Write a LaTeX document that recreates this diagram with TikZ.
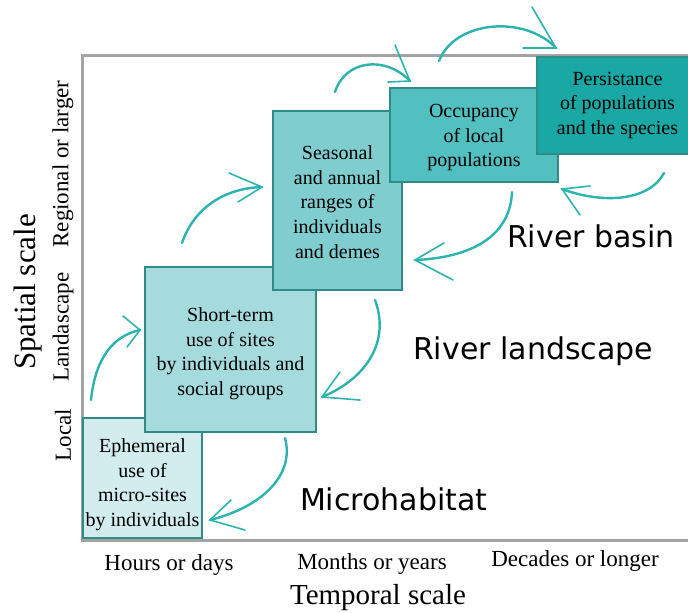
\documentclass[tikz,border=0pt]{standalone}
\usepackage{fontspec}
\setmainfont{Liberation Serif}
\newfontfamily\regionfont{DejaVu Sans}
\definecolor{framegray}{HTML}{A3A3A3}
\definecolor{edgeteal}{HTML}{2F8A88}
\definecolor{arrowteal}{HTML}{2DB3AE}
\definecolor{fillA}{HTML}{D3EDEF}
\definecolor{fillB}{HTML}{A6DBDE}
\definecolor{fillC}{HTML}{80CDD0}
\definecolor{fillD}{HTML}{52BFC1}
\definecolor{fillE}{HTML}{1AA8A4}
\begin{document}
\begin{tikzpicture}
[   x=0.5pt, y=-0.5pt,
    scalebox/.style={draw=edgeteal,line width=1pt,fill=#1,inner sep=0pt},
    boxtext/.style={align=center,font=\fontsize{10}{12.3}\selectfont},
    region/.style={anchor=base west,font=\regionfont\fontsize{15}{18}\selectfont},
    ticklabel/.style={font=\fontsize{11.5}{14}\selectfont},
    shift arrow/.style={draw=arrowteal,line width=1.2pt,line cap=round},
    barb/.style={draw=arrowteal,line width=0.8pt,line cap=round,line join=miter},
]
    \useasboundingbox (0,0) rectangle (688,612);
    \clip (0,0) rectangle (688,612);
    % axes
    \coordinate (origin) at (82,540);
    \coordinate (top-end) at (700,55);
    \coordinate (right-end) at (700,540);
    \draw[framegray,line width=1.5pt] (top-end) -- (top-end -| origin) -- (origin) -- (right-end);
    % boxes, later ones on top
    \foreach \n/\c/\cx/\cy/\w/\h/\ty/\txt in
    {   ephemeral/fillA/142.5/478/59.5/60/484.7/{Ephemeral\\use of\\micro-sites\\by individuals},
        shortterm/fillB/230.5/349.5/85.5/82.5/353.7/{Short-term\\use of sites\\by individuals and\\social groups},
        seasonal/fillC/337.5/200.5/64.5/89.5/202/{Seasonal\\and annual\\ranges of\\individuals\\and demes},
        occupancy/fillD/474/135/84/47/137.7/{Occupancy\\of local\\populations},
        persistance/fillE/617.5/105.5/80.5/48.5/105.2/{Persistance\\of populations\\and the species}%
    }
    {   \node[scalebox=\c,minimum width=\w pt,minimum height=\h pt] (\n) at (\cx,\cy) {};
        \node[boxtext] (\n-text) at (\cx,\ty) {\txt};
    }
    % region names
    \node[region] (basin) at (500,247) {River basin};
    \node[region] (landscape) at (406,359) {River landscape};
    \node[region] (microhabitat) at (293,510) {Microhabitat};
    % axis labels
    \node[rotate=90,font=\fontsize{15.5}{18}\selectfont] (spatial-title) at (28,292) {Spatial scale};
    \foreach \txt/\y [count=\i] in {Regional or larger/164,Landascape/327,Local/435}
        \node[ticklabel,rotate=90] (spatial-\i) at (63,\y) {\txt};
    \foreach \txt/\x/\y [count=\i] in {Hours or days/169/570,Months or years/372/569,Decades or longer/575/566}
        \node[ticklabel,anchor=base] (temporal-\i) at (\x,\y) {\txt};
    \node[anchor=base,font=\fontsize{14.5}{17}\selectfont] (temporal-title) at (378,604) {Temporal scale};
    % ends of the hand drawn arrows
    \foreach \n/\fx/\fy/\tx/\ty in
    {   rise-1/91/400/140/330, rise-2/182/243/262/187, rise-3/335/92/410/81, rise-4/439/61/556/48,
        fall-1/664/173/562/189, fall-2/512/192/415/260, fall-3/375/300/322/397, fall-4/285/438/210/520%
    }
    {   \coordinate (\n-from) at (\fx,\fy);
        \coordinate (\n-tip) at (\tx,\ty);
    }
    \draw[shift arrow] (rise-1-from) .. controls (95,360) and (112,336) .. (rise-1-tip);
    \draw[barb] (123,316) -- (rise-1-tip) -- (127,347);
    \draw[shift arrow] (rise-2-from) .. controls (195,205) and (228,188) .. (rise-2-tip);
    \draw[barb] (229,173) -- (rise-2-tip) -- (238,202);
    \draw[shift arrow] (rise-3-from) .. controls (345,60) and (385,55) .. (rise-3-tip);
    \draw[barb] (395,45) -- (rise-3-tip) -- (388,82);
    \draw[shift arrow] (rise-4-from) .. controls (455,20) and (525,15) .. (rise-4-tip);
    \draw[barb] (532,7) -- (rise-4-tip) -- (523,48);
    \draw[shift arrow] (fall-1-from) .. controls (650,200) and (605,205) .. (fall-1-tip);
    \draw[barb] (590,186) -- (fall-1-tip) -- (580,215);
    \draw[shift arrow] (fall-2-from) .. controls (510,240) and (465,258) .. (fall-2-tip);
    \draw[barb] (444,243) -- (fall-2-tip) -- (453,280);
    \draw[shift arrow] (fall-3-from) .. controls (390,340) and (368,378) .. (fall-3-tip);
    \draw[barb] (340,372) -- (fall-3-tip) -- (360,400);
    \draw[shift arrow] (fall-4-from) .. controls (295,475) and (262,507) .. (fall-4-tip);
    \draw[barb] (231,500) -- (fall-4-tip) -- (245,530);
\end{tikzpicture}
\end{document}
